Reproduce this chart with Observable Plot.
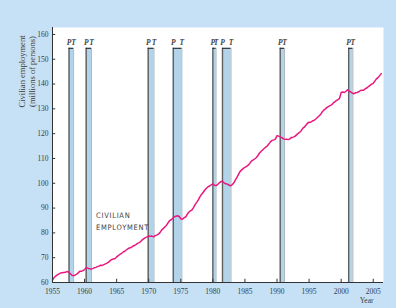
<!DOCTYPE html>
<html>
<head>
<meta charset="utf-8">
<script src="https://cdn.jsdelivr.net/npm/d3@7"></script>
<script src="https://cdn.jsdelivr.net/npm/@observablehq/plot@0.6"></script>
<style>
  html, body { margin: 0; padding: 0; background: #c6e1f6; }
  #chart { width: 396px; height: 308px; }
</style>
</head>
<body>
<div id="chart"></div>
<script>
// Civilian employment, millions of persons, quarterly from 1955 Q1
const startYear = 1955;
const employment = [
  61.0, 62.0, 62.6, 63.1,
  63.5, 63.8, 63.9, 64.0,
  64.1, 64.4, 64.2, 63.6,
  63.0, 62.7, 63.0, 63.3,
  63.9, 64.5, 64.5, 64.8,
  65.2, 66.0, 65.8, 65.5,
  65.4, 65.6, 65.9, 66.1,
  66.4, 66.6, 67.0, 66.9,
  67.2, 67.5, 67.8, 68.2,
  68.8, 69.3, 69.5, 69.7,
  70.3, 70.8, 71.3, 71.7,
  72.2, 72.6, 73.1, 73.6,
  73.9, 74.1, 74.6, 74.9,
  75.3, 75.8, 76.1, 76.5,
  77.2, 77.7, 78.1, 78.4,
  78.7, 78.6, 78.7, 78.4,
  78.9, 79.1, 79.5, 80.1,
  81.1, 81.7, 82.4, 83.0,
  84.0, 84.9, 85.3, 85.9,
  86.5, 86.7, 86.9, 86.6,
  85.7, 85.5, 86.1, 86.4,
  87.5, 88.3, 88.9, 89.3,
  90.3, 91.5, 92.4, 93.4,
  94.6, 95.6, 96.4, 97.3,
  98.0, 98.6, 98.9, 99.4,
  99.8, 99.2, 99.1, 99.5,
  100.2, 100.7, 100.8, 100.2,
  99.8, 99.7, 99.3, 99.0,
  99.4, 100.1, 101.3, 102.4,
  103.6, 104.8, 105.4, 106.0,
  106.4, 106.8, 107.3, 108.0,
  108.9, 109.3, 109.8, 110.3,
  111.1, 112.1, 112.8, 113.4,
  114.0, 114.6, 115.1, 115.9,
  116.8, 117.3, 117.5, 117.8,
  119.2, 119.0, 118.7, 118.4,
  117.9, 117.7, 117.8, 117.6,
  117.9, 118.5, 118.6, 118.8,
  119.4, 120.0, 120.5, 121.1,
  122.1, 122.6, 123.4, 124.2,
  124.6, 124.6, 125.1, 125.3,
  125.8, 126.4, 127.0, 127.6,
  128.6, 129.4, 129.9, 130.5,
  130.9, 131.3, 131.6, 132.3,
  132.8, 133.3, 133.7, 134.3,
  136.6, 136.8, 136.6, 137.1,
  137.7, 137.1, 136.8, 136.3,
  136.1, 136.5, 136.6, 136.9,
  137.4, 137.5, 137.5, 138.1,
  138.4, 139.0, 139.5, 140.0,
  140.3, 141.2, 142.1, 142.6,
  143.4, 144.2
];

// NBER recessions: peak and trough (decimal years)
const recessionPeaks   = [1957.58, 1960.25, 1969.92, 1973.83, 1980.0, 1981.5, 1990.5, 2001.17];
const recessionTroughs = [1958.29, 1961.08, 1970.83, 1975.17, 1980.5, 1982.83, 1991.17, 2001.83];

const xTicks = [1955, 1960, 1965, 1970, 1975, 1980, 1985, 1990, 1995, 2000, 2005];
const yTicks = [60, 70, 80, 90, 100, 110, 120, 130, 140, 150, 160];

const series = employment.map((v, i) => ({date: startYear + i / 4, value: v}));
const recessions = recessionPeaks.map((p, i) => ({peak: p, trough: recessionTroughs[i]}));

const barTop = 154.4;
const labelY = 156.6;
const textColor = "#3c3c3c";

const chart = Plot.plot({
  width: 396,
  height: 308,
  marginLeft: 52,
  marginRight: 13,
  marginTop: 27,
  marginBottom: 26,
  style: {background: "#c6e1f6", fontFamily: "Liberation Serif, DejaVu Serif, serif", color: textColor},
  x: {domain: [1955, 2006.6], axis: null},
  y: {domain: [60, 162.8], axis: null},
  marks: [
    Plot.frame({fill: "white", stroke: null}),
    Plot.rectX(recessions, {x1: "peak", x2: "trough", y1: 60, y2: barTop, fill: "#b2d4ea"}),
    Plot.ruleX(recessions, {x: "peak", y1: 60, y2: barTop, stroke: "#5f5f5f", strokeWidth: 1.4}),
    Plot.ruleX(recessions, {x: "trough", y1: 60, y2: barTop, stroke: "#99a6ad", strokeWidth: 0.8}),
    Plot.ruleY(recessions, {y: barTop, x1: "peak", x2: "trough", stroke: "#333", strokeWidth: 1.2}),
    Plot.text(recessions, {x: "peak", y: labelY, text: () => "P", fontSize: 7.5, fontStyle: "italic", fontWeight: "bold", fill: "#444"}),
    Plot.text(recessions, {x: "trough", y: labelY, text: () => "T", fontSize: 7.5, fontStyle: "italic", fontWeight: "bold", fill: "#444"}),
    Plot.line(series, {x: "date", y: "value", stroke: "#e8187f", strokeWidth: 1.5}),
    Plot.text(["CIVILIAN\nEMPLOYMENT"], {x: 1961.8, y: 85, text: d => d, textAnchor: "start", fontSize: 7.5, fill: "#444", lineHeight: 1.55, fontFamily: "DejaVu Sans Condensed, Liberation Sans, sans-serif"}),
    // axes
    Plot.ruleX([1955], {stroke: "#333", strokeWidth: 1}),
    Plot.ruleY([60], {stroke: "#333", strokeWidth: 1}),
    Plot.ruleX(xTicks, {x: d => d, y1: 60, y2: 61.3, stroke: "#333"}),
    Plot.ruleY(yTicks, {y: d => d, x1: 1955, x2: 1955.5, stroke: "#333"}),
    Plot.text(xTicks, {x: d => d, y: 60, text: d => String(d), dy: 9, fontSize: 7.5, fill: textColor}),
    Plot.text(yTicks, {x: 1955, y: d => d, text: d => String(d), dx: -4, textAnchor: "end", fontSize: 7.5, fill: textColor}),
    Plot.text(["Civilian employment\n(millions of persons)"], {frameAnchor: "top-left", dx: -35, dy: 44, rotate: -90, text: d => d, textAnchor: "middle", fontSize: 8.5, fill: textColor, lineHeight: 1.2}),
    Plot.text(["Year"], {frameAnchor: "bottom-right", dx: -10, dy: 20, text: d => d, fontSize: 7.5, fill: textColor})
  ]
});
d3.select(chart).selectAll("text").filter(function() { return this.textContent.includes("CIVILIAN"); })
  .attr("letter-spacing", "0.7");
document.getElementById("chart").appendChild(chart);
</script>
</body>
</html>
